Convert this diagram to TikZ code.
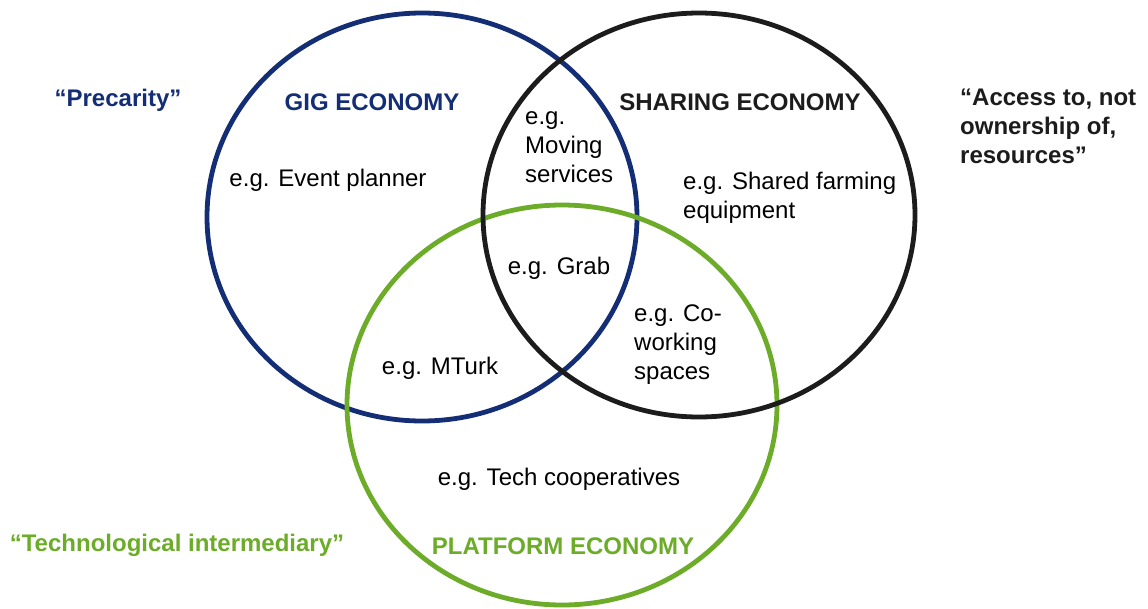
\documentclass[tikz,border=0pt]{standalone}
\usepackage{fontspec}
\setmainfont{Liberation Sans}
\definecolor{gigblue}{RGB}{20,46,118}
\definecolor{platgreen}{RGB}{108,172,40}
\definecolor{sharblack}{RGB}{28,28,28}
\tikzset{
  ring/.style={line width=4.8pt},
  lbl/.style={inner sep=0pt, font=\fontsize{24}{29}\selectfont, text=black},
  blk/.style={lbl, align=left, anchor=west},
  head/.style={inner sep=0pt, font=\fontsize{24}{29}\selectfont\bfseries}
}
\begin{document}
\begin{tikzpicture}[x=1pt,y=-1pt]
\useasboundingbox (0,0) rectangle (1148,608);
\fill[white] (0,0) rectangle (1148,608);
% circles
\draw[ring, gigblue] (422,217) ellipse [x radius=215, y radius=204];
\draw[ring, platgreen] (562,405) ellipse [x radius=215, y radius=200];
\draw[ring, sharblack] (699,215) ellipse [x radius=216, y radius=202];
% headings
\node[head, text=gigblue] (gig) at (372,102) {GIG ECONOMY};
\node[head, text=sharblack] (shar) at (740,102) {SHARING ECONOMY};
\node[head, text=platgreen] (plat) at (563,546) {PLATFORM ECONOMY};
% quotes
\node[head, text=gigblue] (prec) at (118,100) {“Precarity”};
\node[head, text=platgreen] (tech) at (177,545) {“Technological intermediary”};
\node[head, text=sharblack, align=left, anchor=west] (acc) at (960,126) {“Access to, not\\ownership of,\\resources”};
% examples
\node[lbl] (event) at (328,180) {e.g. Event planner};
\node[blk] (moving) at (525,147) {e.g.\\Moving\\services};
\node[blk] (farm) at (683,197.5) {e.g. Shared farming\\equipment};
\node[lbl] (grab) at (559,268) {e.g. Grab};
\node[blk] (cowork) at (634,345) {e.g. Co-\\working\\spaces};
\node[lbl] (mturk) at (440,368) {e.g. MTurk};
\node[lbl] (coop) at (559,479) {e.g. Tech cooperatives};
\end{tikzpicture}
\end{document}
